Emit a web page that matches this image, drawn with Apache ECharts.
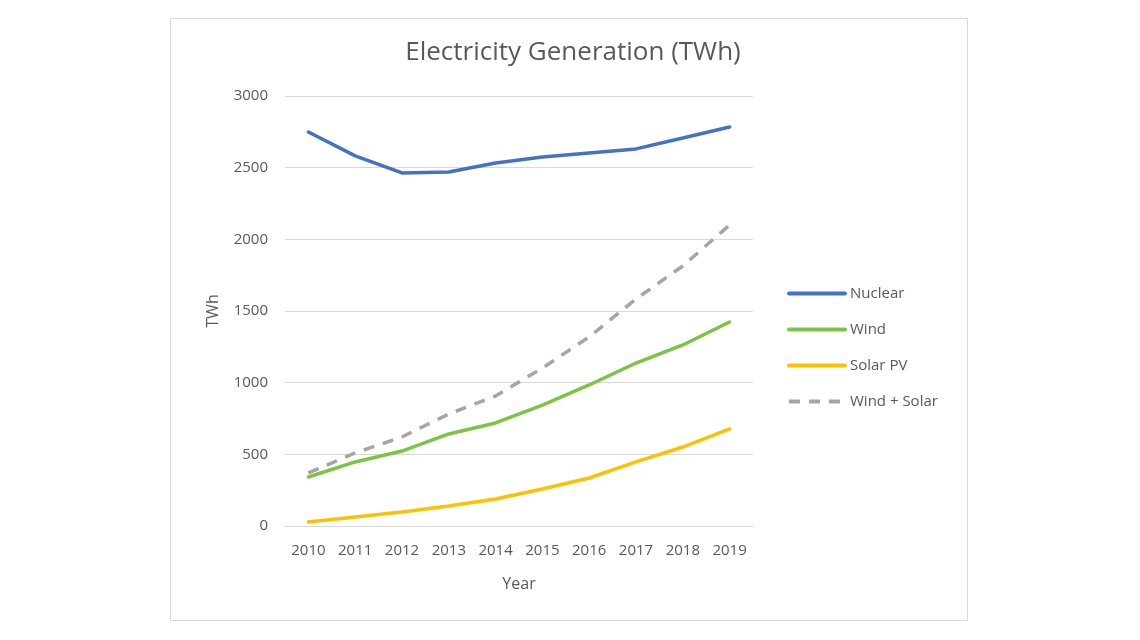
<!DOCTYPE html>
<html><head><meta charset="utf-8">
<script src="https://cdn.jsdelivr.net/npm/echarts@6/dist/echarts.min.js"></script>
<style>html,body{margin:0;padding:0;background:#fff}#c{width:1140px;height:640px}</style>
</head><body><div id="c"></div>
<script>
const years = ['2010','2011','2012','2013','2014','2015','2016','2017','2018','2019'];
const nuclear = [2749, 2582, 2463, 2470, 2533, 2575, 2603, 2631, 2707, 2784];
const wind = [342, 447, 523, 642, 719, 844, 984, 1137, 1263, 1423];
const solar = [28, 63, 98, 140, 188, 258, 335, 447, 551, 677];
const windSolar = [370, 510, 621, 782, 907, 1102, 1319, 1584, 1814, 2100];

const txt = '#595959';
const font = 'Open Sans';
const chart = echarts.init(document.getElementById('c'));
chart.setOption({
  animation: false,
  textStyle: { fontFamily: font },
  graphic: [{ type: 'rect', shape: { x: 170.5, y: 18.5, width: 797, height: 602 }, style: { fill: 'none', stroke: '#d9d9d9', lineWidth: 1 }, silent: true }],
  title: { text: 'Electricity Generation (TWh)', left: 568, top: 35, textAlign: 'center',
    textStyle: { fontFamily: font, fontSize: 26, fontWeight: 'normal', color: txt } },
  grid: { left: 285, right: 387, top: 96, bottom: 114 },
  legend: { orient: 'vertical', left: 782, top: 281, itemWidth: 56, itemHeight: 14, itemGap: 21,
    itemStyle: { opacity: 0 },
    textStyle: { fontFamily: font, fontSize: 15, color: txt },
    data: [
      { name: 'Nuclear', lineStyle: { width: 4 } },
      { name: 'Wind', lineStyle: { width: 4 } },
      { name: 'Solar PV', lineStyle: { width: 4 } },
      { name: 'Wind + Solar', lineStyle: { width: 4 } }
    ] },
  xAxis: { type: 'category', data: years, boundaryGap: true, name: 'Year', nameLocation: 'middle', nameGap: 50,
    nameTextStyle: { fontFamily: font, fontSize: 16, color: txt },
    axisLine: { lineStyle: { color: '#d9d9d9' } }, axisTick: { show: false },
    axisLabel: { fontFamily: font, fontSize: 15, color: txt, margin: 17 } },
  yAxis: { type: 'value', min: 0, max: 3000, interval: 500, name: 'TWh', nameLocation: 'middle', nameGap: 64,
    nameTextStyle: { fontFamily: font, fontSize: 16, color: txt },
    axisLine: { show: false }, axisTick: { show: false },
    axisLabel: { fontFamily: font, fontSize: 15, color: txt, margin: 17, formatter: v => String(v) },
    splitLine: { lineStyle: { color: '#d9d9d9', width: 1 } } },
  series: [
    { name: 'Nuclear', type: 'line', data: nuclear, symbol: 'none', lineStyle: { color: '#4472c4', width: 3.5, cap: 'round' }, itemStyle: { color: '#4472c4' } },
    { name: 'Wind', type: 'line', data: wind, symbol: 'none', lineStyle: { color: '#7cc444', width: 3.5, cap: 'round' }, itemStyle: { color: '#7cc444' } },
    { name: 'Solar PV', type: 'line', data: solar, symbol: 'none', lineStyle: { color: '#ffc000', width: 3.5, cap: 'round' }, itemStyle: { color: '#ffc000' } },
    { name: 'Wind + Solar', type: 'line', data: windSolar, symbol: 'none', lineStyle: { color: '#a5a5a5', width: 3.5, type: [11, 9] }, itemStyle: { color: '#a5a5a5' } }
  ]
});
</script></body></html>
